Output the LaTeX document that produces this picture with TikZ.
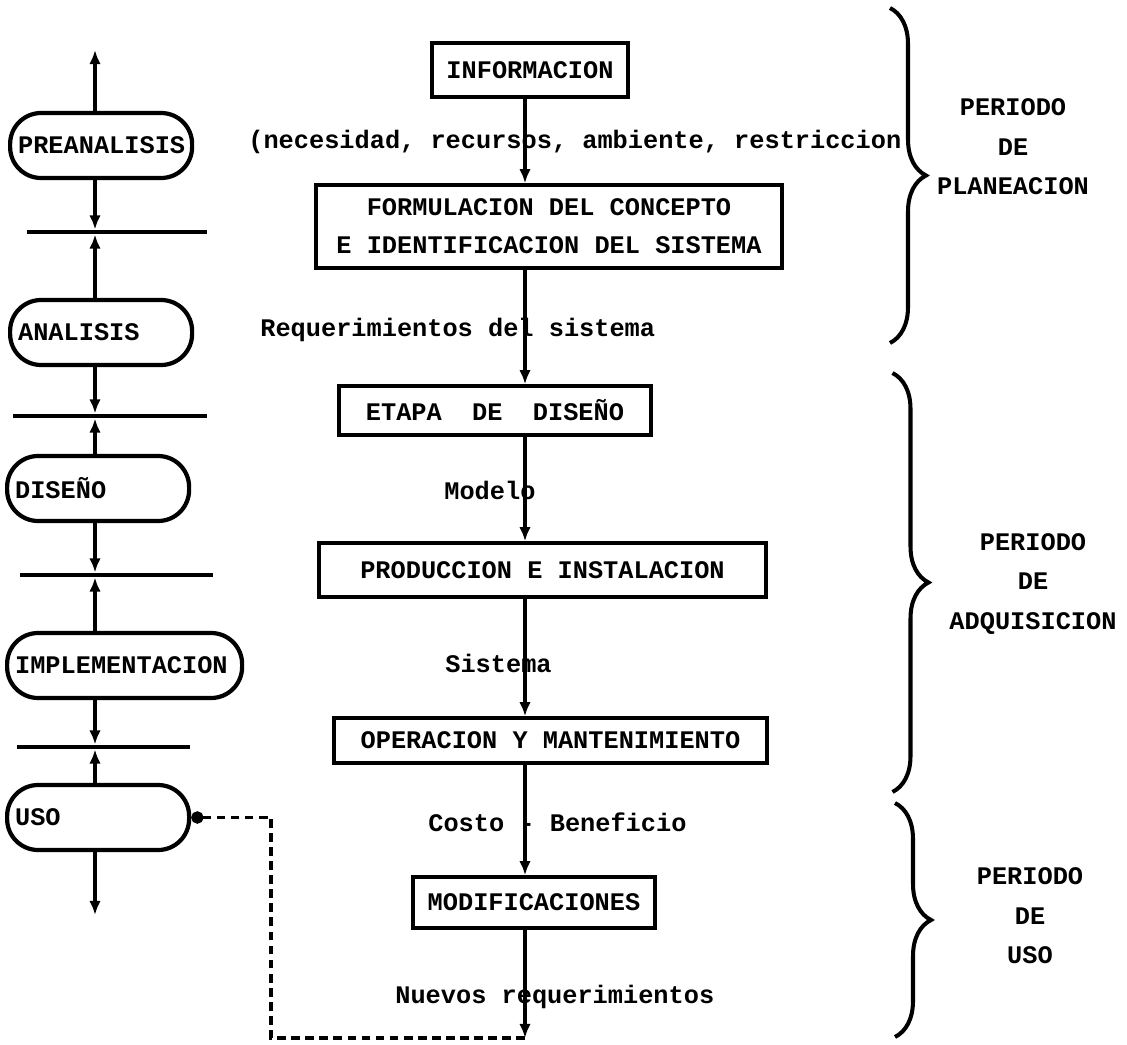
\documentclass[tikz,border=0pt]{standalone}
\usepackage{fontspec}
\setmainfont{Liberation Mono}
\usetikzlibrary{arrows.meta,decorations.pathreplacing}

\begin{document}
\begin{tikzpicture}[
        texto/.style={font=\fontsize{14.4}{21.6}\selectfont\bfseries, inner sep=0pt},
        caja/.style={texto, draw, line width=2pt},
        pildora/.style={texto, draw, line width=2.4pt, rounded corners=0.62cm, minimum height=1.3cm, text width=3.32cm, align=left, inner xsep=0.16cm, anchor=west},
        periodo/.style={font=\fontsize{14.4}{22.5}\selectfont\bfseries, align=center, inner sep=0pt},
        flecha/.style={line width=2pt, -{Latex[length=8pt,width=6.5pt]}},
        separador/.style={line width=2.4pt},
        llave/.style={line width=2.3pt, decorate, decoration={brace, amplitude=0.72cm}},
        punteada/.style={line width=2.2pt, dash pattern=on 5pt off 3pt}
    ]
        \useasboundingbox (0,0) rectangle (22.54,-20.9);

        % columna central
        \node[caja, minimum width=3.92cm, minimum height=1.08cm] (info) at (10.6,-1.4) {INFORMACION};
        \node[texto, anchor=west] (nec) at (4.96,-2.84) {(necesidad, recursos, ambiente, restriccion};
        \node[caja, align=center, minimum width=9.32cm, minimum height=1.66cm] (form) at (10.98,-4.53) {FORMULACION DEL CONCEPTO\\E IDENTIFICACION DEL SISTEMA};
        \node[texto, anchor=west] (req) at (5.2,-6.6) {Requerimientos del sistema};
        \node[caja, minimum width=6.24cm, minimum height=0.98cm] (etapa) at (9.9,-8.21) {ETAPA~~DE~~DISEÑO};
        \node[texto, anchor=west] (modelo) at (8.88,-9.8) {Modelo};
        \node[caja, minimum width=8.94cm, minimum height=1.08cm] (prod) at (10.85,-11.4) {PRODUCCION E INSTALACION};
        \node[texto, anchor=west] (sist) at (8.9,-13.26) {Sistema};
        \node[caja, minimum width=8.66cm, minimum height=0.9cm] (oper) at (11.01,-14.81) {OPERACION Y MANTENIMIENTO};
        \node[texto, anchor=west] (costo) at (8.56,-16.44) {Costo - Beneficio};
        \node[caja, minimum width=4.84cm, minimum height=1.02cm] (modif) at (10.68,-18.05) {MODIFICACIONES};
        \node[texto, anchor=west] (nuevos) at (7.9,-19.94) {Nuevos requerimientos};
        \coordinate (eje) at (10.5,0);
        \coordinate (fin) at (10.5,-20.76);

        \foreach \a/\b in {info/form, form/etapa, etapa/prod, prod/oper, oper/modif}
            \draw[flecha] (\a.south -| eje) -- (\b.north -| eje);
        \draw[flecha] (modif.south -| eje) -- (fin);

        % columna izquierda
        \node[pildora] (pre) at (0.16,-2.91) {PREANALISIS};
        \node[pildora] (ana) at (0.16,-6.65) {ANALISIS};
        \node[pildora] (dis) at (0.1,-9.77) {DISEÑO};
        \node[pildora, text width=4.38cm] (imp) at (0.1,-13.31) {IMPLEMENTACION};
        \node[pildora] (uso) at (0.1,-16.35) {USO};
        \coordinate (izq) at (1.9,0);
        \coordinate (arriba) at (1.9,-1.0);
        \coordinate (abajo) at (1.9,-18.3);

        \foreach \n/\y/\a/\b in {1/-4.64/0.54/4.14, 2/-8.32/0.26/4.14, 3/-11.5/0.4/4.26, 4/-14.94/0.34/3.8}{
            \coordinate (s\n) at (1.9,\y);
            \draw[separador] (\a,\y) -- (\b,\y);
        }
        \foreach \a/\s/\b in {pre/s1/ana, ana/s2/dis, dis/s3/imp, imp/s4/uso}{
            \draw[flecha] (\a.south -| izq) -- ([yshift=1.4pt]\s);
            \draw[flecha] (\b.north -| izq) -- ([yshift=-1.4pt]\s);
        }
        \draw[flecha] (pre.north -| izq) -- (arriba);
        \draw[flecha] (uso.south -| izq) -- (abajo);

        % retroalimentacion
        \draw[punteada, -{Circle[length=7pt]}] (fin) -| ([xshift=1.6cm]uso.east) -- (uso.east);

        % periodos
        \draw[llave] (17.8,-0.16) -- (17.8,-6.86);
        \draw[llave] (17.85,-7.46) -- (17.85,-15.84);
        \draw[llave] (17.9,-16.06) -- (17.9,-20.74);
        \node[periodo] (plan) at (20.26,-2.94) {PERIODO\\DE\\PLANEACION};
        \node[periodo] (adq) at (20.66,-11.68) {PERIODO\\DE\\ADQUISICION};
        \node[periodo] (usop) at (20.6,-18.32) {PERIODO\\DE\\USO};
\end{tikzpicture}
\end{document}
